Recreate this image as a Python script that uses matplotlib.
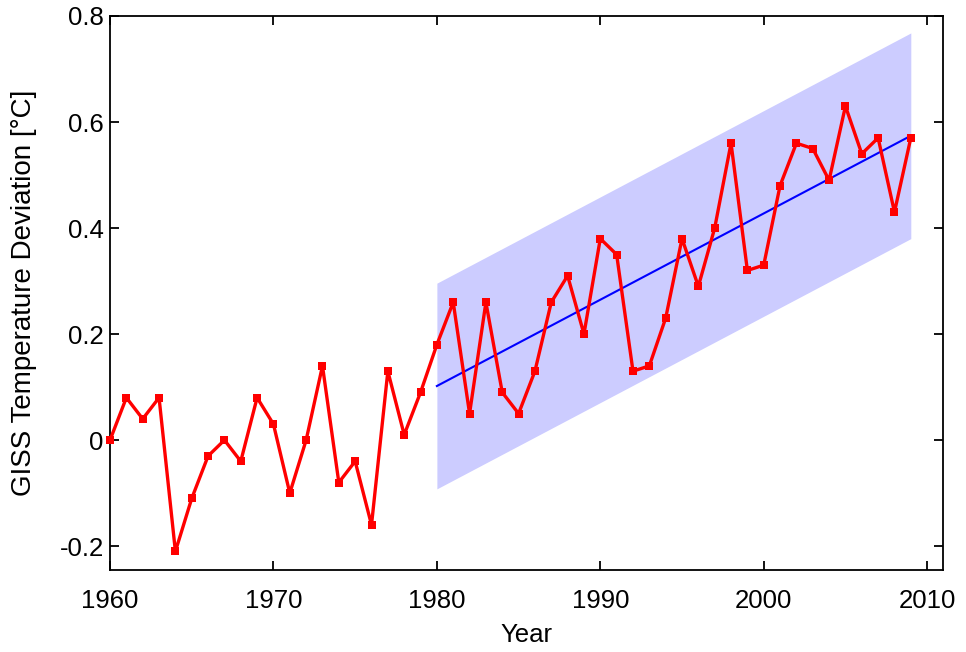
import numpy as np
import matplotlib
matplotlib.use("Agg")
import matplotlib.pyplot as plt

plt.rcParams['font.family'] = ['Liberation Sans', 'DejaVu Sans']
plt.rcParams['axes.unicode_minus'] = False

years = np.arange(1960, 2010)
temps = [0.00, 0.08, 0.04, 0.08, -0.21, -0.11, -0.03, 0.00, -0.04, 0.08,
         0.03, -0.10, 0.00, 0.14, -0.08, -0.04, -0.16, 0.13, 0.01, 0.09,
         0.18, 0.26, 0.05, 0.26, 0.09, 0.05, 0.13, 0.26, 0.31, 0.20,
         0.38, 0.35, 0.13, 0.14, 0.23, 0.38, 0.29, 0.40, 0.56, 0.32,
         0.33, 0.48, 0.56, 0.55, 0.49, 0.63, 0.54, 0.57, 0.43, 0.57]

trend_years = [1980, 2009]
trend_vals = [0.102, 0.574]
band_halfwidth = 0.194

fig = plt.figure(figsize=(9.66, 6.52), dpi=100)
ax = fig.add_axes([0.1139, 0.1258, 0.8628, 0.8497])

tv = np.array(trend_vals)
ax.fill_between(trend_years, tv - band_halfwidth, tv + band_halfwidth,
                color='#ccccff', linewidth=0, zorder=1)
ax.plot(trend_years, trend_vals, color='blue', lw=1.5, zorder=2)
ax.plot(years, temps, color='red', lw=2.4, marker='s', ms=5.3,
        markeredgewidth=0, zorder=3, clip_on=False)

ax.set_xlim(1960, 2011)
ax.set_ylim(-0.245, 0.8)
ax.set_xticks([1960, 1970, 1980, 1990, 2000, 2010])
ax.set_yticks([-0.2, 0, 0.2, 0.4, 0.6, 0.8])
ax.set_yticklabels(['-0.2', '0', '0.2', '0.4', '0.6', '0.8'])
ax.tick_params(direction='in', length=6.5, width=1.3, top=True, right=True,
               labelsize=18.5)
ax.tick_params(axis='x', pad=14)
ax.tick_params(axis='y', pad=4.5)
for s in ax.spines.values():
    s.set_linewidth(1.3)

ax.set_xlabel('Year', fontsize=18.5, labelpad=7)
ax.set_ylabel('GISS Temperature Deviation [°C]', fontsize=20, labelpad=16)

fig.savefig('out.png', dpi=100)
